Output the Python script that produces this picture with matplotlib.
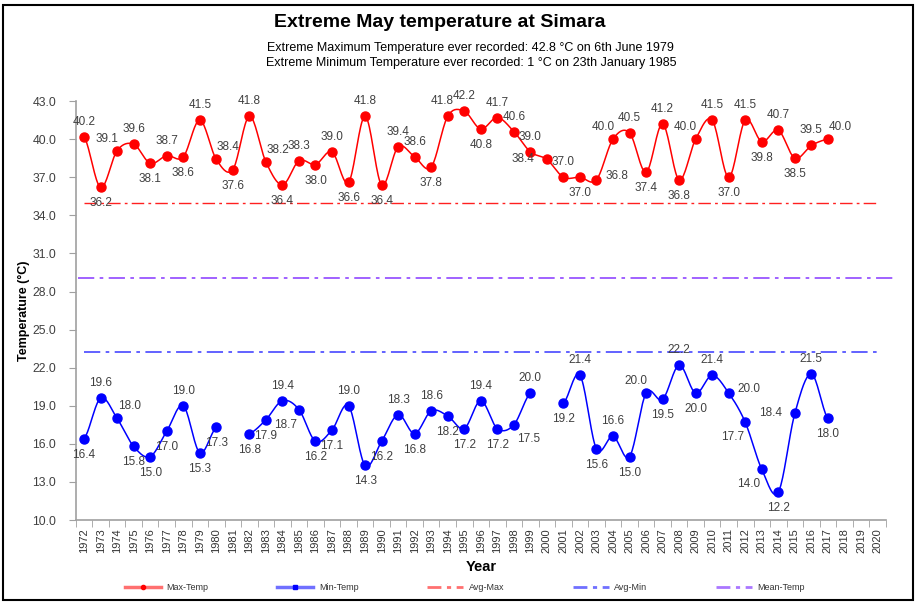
import numpy as np
import matplotlib.pyplot as plt
from matplotlib.lines import Line2D
from matplotlib.patches import Rectangle

years = list(range(1972, 2021))

# May extreme maximum temperature (deg C), 1972-2017
max_temp = [40.2, 36.2, 39.1, 39.6, 38.1, 38.7, 38.6, 41.5, 38.4, 37.6,
            41.8, 38.2, 36.4, 38.3, 38.0, 39.0, 36.6, 41.8, 36.4, 39.4,
            38.6, 37.8, 41.8, 42.2, 40.8, 41.7, 40.6, 39.0, 38.4, 37.0,
            37.0, 36.8, 40.0, 40.5, 37.4, 41.2, 36.8, 40.0, 41.5, 37.0,
            41.5, 39.8, 40.7, 38.5, 39.5, 40.0]
# May extreme minimum temperature (deg C), None = no record
min_temp = [16.4, 19.6, 18.0, 15.8, 15.0, 17.0, 19.0, 15.3, 17.3, None,
            16.8, 17.9, 19.4, 18.7, 16.2, 17.1, 19.0, 14.3, 16.2, 18.3,
            16.8, 18.6, 18.2, 17.2, 19.4, 17.2, 17.5, 20.0, None, 19.2,
            21.4, 15.6, 16.6, 15.0, 20.0, 19.5, 22.2, 20.0, 21.4, 20.0,
            17.7, 14.0, 12.2, 18.4, 21.5, 18.0]
avg_max = 35.0
avg_min = 23.2
mean_temp = 29.1

# where each data label sits relative to its point
max_pos = ['u', 'd', 'ul', 'u', 'd', 'u', 'd', 'u', 'ur', 'd',
           'u', 'ur', 'd', 'u', 'd', 'u', 'd', 'u', 'd', 'u',
           'u', 'd', 'uL', 'u', 'd', 'u', 'u', 'u', 'l', 'u',
           'd', 'r', 'ul', 'u', 'd', 'u', 'd', 'ul', 'u', 'd',
           'u', 'd', 'u', 'd', 'u', 'ur']
min_pos = ['d', 'u', 'ur', 'd', 'd', 'd', 'u', 'd', 'd', '',
           'd', 'd', 'u', 'dl', 'd', 'd', 'u', 'd', 'd', 'u',
           'd', 'u', 'd', 'd', 'u', 'd', 'dr', 'u', '', 'd',
           'u', 'd', 'u', 'd', 'ul', 'd', 'u', 'd', 'u', 'r',
           'dl', 'dl', 'd', 'l', 'u', 'd']
offsets = {'u': (0, 15), 'd': (0, -16), 'ul': (-10, 12), 'ur': (12, 12),
           'uL': (-6, 15), 'dl': (-13, -15), 'dr': (15, -14),
           'l': (-24, 0), 'r': (20, 4)}


def smooth(xs, ys, n=20):
    # Excel-style smoothed line (Catmull-Rom) through one run of points
    xs = np.asarray(xs, float)
    ys = np.asarray(ys, float)
    if len(xs) < 2:
        return xs, ys
    m = np.empty_like(ys)
    m[1:-1] = (ys[2:] - ys[:-2]) / 2
    m[0] = (ys[1] - ys[0]) / 2
    m[-1] = (ys[-1] - ys[-2]) / 2
    ox, oy = [], []
    t = np.linspace(0, 1, n)
    for i in range(len(xs) - 1):
        h00 = 2 * t**3 - 3 * t**2 + 1
        h10 = t**3 - 2 * t**2 + t
        h01 = -2 * t**3 + 3 * t**2
        h11 = t**3 - t**2
        ox.extend(xs[i] + t * (xs[i + 1] - xs[i]))
        oy.extend(h00 * ys[i] + h10 * m[i] + h01 * ys[i + 1] + h11 * m[i + 1])
    return np.array(ox), np.array(oy)


def runs(vals):
    out, cur = [], []
    for i, v in enumerate(vals):
        if v is None:
            if cur:
                out.append(cur)
            cur = []
        else:
            cur.append(i)
    if cur:
        out.append(cur)
    return out


plt.rcParams['font.family'] = ['Liberation Sans', 'DejaVu Sans']

fig = plt.figure(figsize=(9.19, 6.04), dpi=100)
ax = fig.add_axes([0.0825, 0.139, 0.8813, 0.6937])

x = np.arange(len(years))

for series, color, pos in [(max_temp, '#FF0000', max_pos), (min_temp, '#0000FF', min_pos)]:
    for r in runs(series):
        sx, sy = smooth([x[i] for i in r], [series[i] for i in r])
        ax.plot(sx, sy, color=color, lw=1.1, zorder=3)
    px = [x[i] for i, v in enumerate(series) if v is not None]
    py = [v for v in series if v is not None]
    ax.plot(px, py, 'o', color=color, ms=6.5, zorder=4)
    for i, v in enumerate(series):
        if v is None:
            continue
        ax.annotate('%.1f' % v, (x[i], v), xytext=offsets[pos[i]],
                    textcoords='offset pixels', ha='center', va='center',
                    fontsize=8.5, color='#404040', zorder=5)

ax.plot([0, 48], [avg_max] * 2, color='#FF2020', lw=1.0, ls=(0, (9, 3, 2, 3)), zorder=2)
ax.plot([0, 48], [avg_min] * 2, color='#5555FF', lw=1.3, ls=(0, (9, 3, 2, 3)), zorder=2)
ax.plot([-0.35, 49.05], [mean_temp] * 2, color='#9955FF', lw=1.3,
        ls=(0, (9, 3, 2, 3)), zorder=2, clip_on=False)

ax.set_xlim(-0.5, len(years) - 0.5)
ax.set_ylim(10, 43)
ax.set_yticks(np.arange(10, 43.1, 3))
ax.set_yticklabels(['%.1f' % v for v in np.arange(10, 43.1, 3)])
ax.set_xticks(x)
ax.set_xticklabels([str(y) for y in years], rotation=90, fontsize=8)
ax.set_xticks(np.arange(-0.5, len(years)), minor=True)
ax.tick_params(axis='x', which='major', length=0, pad=6, colors='#333333')
ax.tick_params(axis='x', which='minor', length=5, color='#A0A0A0')
ax.tick_params(axis='y', length=5, color='#A0A0A0', labelsize=8.8, labelcolor='#404040', pad=9)

for s in ['top', 'right']:
    ax.spines[s].set_visible(False)
for s in ['left', 'bottom']:
    ax.spines[s].set_color('#A0A0A0')
    ax.spines[s].set_linewidth(1.2)

ax.set_ylabel('Temperature (°C)', fontsize=9, fontweight='bold', labelpad=2)
ax.set_xlabel('Year', fontsize=10.5, fontweight='bold', labelpad=5)

fig.text(0.478, 0.963, 'Extreme May temperature at Simara', ha='center', va='center',
         fontsize=14, fontweight='bold')
fig.text(0.512, 0.921, 'Extreme Maximum Temperature ever recorded: 42.8 °C on 6th June 1979',
         ha='center', va='center', fontsize=9)
fig.text(0.513, 0.896, 'Extreme Minimum Temperature ever recorded: 1 °C on 23th January 1985',
         ha='center', va='center', fontsize=9)

handles = [
    Line2D([], [], color='#FF7070', lw=2.5, marker='o', ms=3, mfc='#FF0000', mec='#FF0000'),
    Line2D([], [], color='#7070FF', lw=2.5, marker='s', ms=3, mfc='#0000FF', mec='#0000FF'),
    Line2D([], [], color='#FF7070', lw=2, ls=(0, (5, 2, 1.5, 2))),
    Line2D([], [], color='#7070FF', lw=2, ls=(0, (5, 2, 1.5, 2))),
    Line2D([], [], color='#AA77FF', lw=2, ls=(0, (5, 2, 1.5, 2))),
]
fig.legend(handles, ['Max-Temp', 'Min-Temp', 'Avg-Max', 'Avg-Min', 'Mean-Temp'],
           loc='center', bbox_to_anchor=(0.506, 0.027), ncol=5, frameon=False,
           fontsize=6.5, handlelength=4, columnspacing=7.6, handletextpad=0.6,
           labelcolor='#333333')

fig.add_artist(Rectangle((0.0035, 0.006), 0.99, 0.986, transform=fig.transFigure,
                         fill=False, edgecolor='black', lw=1.5))

fig.savefig('out.png', dpi=100)
